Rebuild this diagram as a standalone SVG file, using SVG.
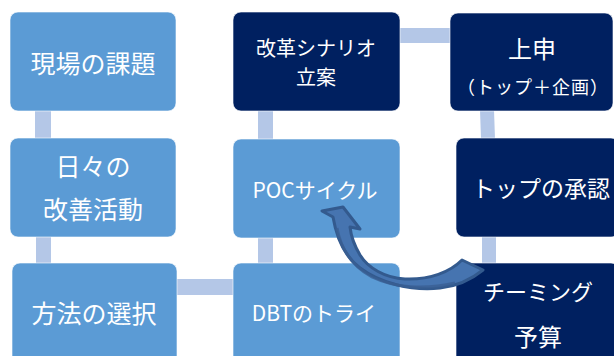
<svg xmlns="http://www.w3.org/2000/svg" width="614" height="356" viewBox="0 0 614 356">
<style>
.lb{fill:#5b9bd5;stroke:#ffffff;stroke-opacity:.6;stroke-width:1}
.nv{fill:#002060;stroke:#ffffff;stroke-opacity:.6;stroke-width:1}
.cn{fill:#b4c7e7}
text{fill:#ffffff;font-family:"Noto Sans CJK JP","Noto Sans",sans-serif;text-anchor:middle;dominant-baseline:central}
</style>
<rect width="614" height="356" fill="#ffffff"/>
<g id="connectors">
<rect class="cn" x="35" y="110" width="16" height="29"/>
<rect class="cn" x="36" y="236" width="15" height="28"/>
<rect class="cn" x="176" y="279" width="58" height="16"/>
<rect class="cn" x="258" y="110" width="15" height="30"/>
<rect class="cn" x="258" y="237" width="15" height="27"/>
<rect class="cn" x="399" y="28" width="52" height="15"/>
<polygon class="cn" points="480,110 494,110 495,139 481,139"/>
<rect class="cn" x="482" y="236" width="14" height="28"/>
</g>
<g id="n1"><rect class="lb" x="10" y="12" width="166" height="99" rx="8"/><text x="93" y="62" font-size="25">現場の課題</text></g>
<g id="n2"><rect class="lb" x="10" y="138" width="166" height="99" rx="8"/><text x="93" y="165" font-size="25">日々の</text><text x="93" y="208" font-size="25">改善活動</text></g>
<g id="n3"><rect class="lb" x="12" y="263" width="165" height="110" rx="8"/><text x="94" y="312" font-size="25">方法の選択</text></g>
<g id="n4"><rect class="nv" x="233" y="12" width="167" height="99" rx="8"/><text x="316" y="47" font-size="20">改革シナリオ</text><text x="316" y="76" font-size="20">立案</text></g>
<g id="n5"><rect class="lb" x="233" y="139" width="167" height="99" rx="8"/><text x="315" y="189" font-size="21">POCサイクル</text></g>
<g id="n6"><rect class="lb" x="233" y="263" width="167" height="110" rx="8"/><text x="314" y="312" font-size="21">DBTのトライ</text></g>
<g id="n7"><rect class="nv" x="450" y="13" width="163" height="98" rx="8"/><text x="532" y="47" font-size="24">上申</text><text x="533" y="86" font-size="18" letter-spacing="1">（トップ＋企画）</text></g>
<g id="n8"><rect class="nv" x="456" y="138" width="163" height="99" rx="8"/><text x="541" y="187" font-size="23">トップの承認</text></g>
<g id="n9"><rect class="nv" x="456" y="263" width="163" height="110" rx="8"/><text x="538" y="290" font-size="22">チーミング</text><text x="538" y="335" font-size="24">予算</text></g>
<g id="arrow">
<path d="M322,211 L333,217 C336,235 343,255 360,268 C380,283 410,291 440,288 C458,286 472,279 483,270 L462,260 C450,272 430,280 405,279 C385,278 368,268 360,255 C354,245 351,236 350,227 L360,229 L343,207 Z" fill="#4674b0" stroke="#335a8e" stroke-width="3" stroke-linejoin="round"/>
<path d="M337,228 C341,250 352,266 372,277 C395,288 425,290 455,283" fill="none" stroke="#3a5f94" stroke-width="3" stroke-opacity=".8"/>
</g>
</svg>
